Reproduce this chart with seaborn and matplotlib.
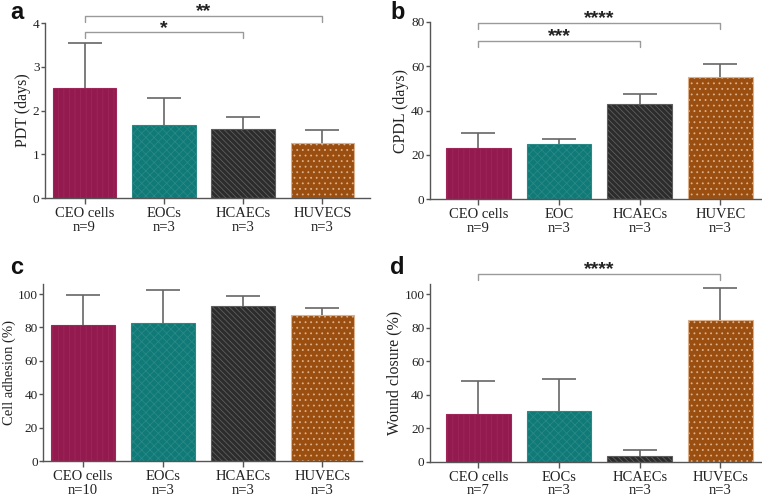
import numpy as np
import seaborn as sns
import matplotlib.pyplot as plt

# bar styling shared by all panels (CEO cells, EOCs, HCAECs, HUVECs)
colors = ['#921a4e', '#0f7a77', '#2c2c2c', '#9a4e10']
hatch_colors = ['#9e2659', '#2a8986', '#5e5e5e', '#dcb08a']
hatches = ['|||', 'xxxx', '\\\\\\\\\\\\', '...']

# a: population doubling time
pdt_labels = ['CEO cells\nn=9', 'EOCs\nn=3', 'HCAECs\nn=3', 'HUVECS\nn=3']
pdt_mean = [2.52, 1.68, 1.58, 1.26]
pdt_err = [1.02, 0.61, 0.28, 0.29]

# b: cumulative population doubling level
cpdl_labels = ['CEO cells\nn=9', 'EOC\nn=3', 'HCAECs\nn=3', 'HUVEC\nn=3']
cpdl_mean = [23.1, 24.8, 43.1, 55.3]
cpdl_err = [6.9, 2.5, 4.5, 5.5]

# c: cell adhesion
adh_labels = ['CEO cells\nn=10', 'EOCs\nn=3', 'HCAECs\nn=3', 'HUVECs\nn=3']
adh_mean = [81.4, 82.6, 92.8, 87.6]
adh_err = [17.8, 19.6, 5.8, 4.2]

# d: wound closure
wound_labels = ['CEO cells\nn=7', 'EOCs\nn=3', 'HCAECs\nn=3', 'HUVECs\nn=3']
wound_mean = [28.7, 30.6, 3.4, 84.8]
wound_err = [19.5, 19.0, 3.5, 19.3]

# significance brackets: (from bar, to bar, stars, height)
pdt_sig = [(0, 3, '**', 4.17), (0, 2, '*', 3.79)]
cpdl_sig = [(0, 3, '****', 79.5), (0, 2, '***', 71.4)]
wound_sig = [(0, 3, '****', 112.3)]

sns.set_style('ticks')
plt.rcParams['font.family'] = ['Liberation Serif', 'DejaVu Serif']
plt.rcParams['hatch.linewidth'] = 0.6

fig = plt.figure(figsize=(7.62, 4.98), dpi=100)


def draw_panel(rect, labels, mean, err, ylabel, ylim, yticks, xlim, sig,
               letter, letter_xy, label_size=11.5):
    ax = fig.add_axes(rect)
    sns.barplot(x=labels, y=mean, hue=labels, palette=colors, legend=False,
                saturation=1, width=0.8, ax=ax)

    # fill patterns
    for bars, h, hc in zip(ax.containers, hatches, hatch_colors):
        for p in bars:
            p.set_hatch(h)
            p.set_edgecolor(hc)
            p.set_linewidth(0.8)

    # upper error bars only
    eb = ax.errorbar(np.arange(len(mean)), mean, yerr=[np.zeros(len(err)), err],
                     fmt='none', ecolor='#666666', elinewidth=1.2,
                     capsize=12.5, capthick=1.2)
    eb[1][0].set_visible(False)

    ax.set_ylim(*ylim)
    ax.set_yticks(yticks)
    ax.set_xlim(*xlim)
    ax.set_xlabel('')
    ax.set_ylabel(ylabel, fontsize=label_size, color='#222222', labelpad=1.5)
    ax.tick_params(colors='#555555', labelcolor='#222222', width=1)
    ax.tick_params(axis='y', labelsize=9.5, length=3, pad=1)
    ax.tick_params(axis='x', labelsize=10.5, length=4, pad=2.5)
    for t in ax.get_xticklabels():
        t.set_linespacing(1.05)
    sns.despine(ax=ax)
    for s in ['left', 'bottom']:
        ax.spines[s].set_color('#555555')
        ax.spines[s].set_linewidth(1)

    # significance brackets
    drop = 0.036 * ylim[1]
    for i, j, stars, y in sig:
        ax.plot([i, i, j, j], [y - drop, y, y, y - drop], color='#9a9a9a',
                lw=1, clip_on=False)
        ax.annotate(stars, xy=((i + j) / 2, y), xytext=(0, -0.5),
                    textcoords='offset points', ha='center', va='baseline',
                    fontsize=14, fontweight='bold', family='Liberation Sans',
                    color='#222222', annotation_clip=False)

    fig.text(letter_xy[0], letter_xy[1], letter, fontsize=17, fontweight='bold',
             family='Liberation Sans', va='baseline', color='#111111')
    return ax


draw_panel([0.059, 0.6024, 0.4265, 0.3514], pdt_labels, pdt_mean, pdt_err,
           'PDT (days)', (0, 4), [0, 1, 2, 3, 4], (-0.5, 3.6), pdt_sig,
           'a', (10 / 762, 1 - 19 / 498))
draw_panel([0.5643, 0.5998, 0.434, 0.3566], cpdl_labels, cpdl_mean, cpdl_err,
           'CPDL (days)', (0, 80), [0, 20, 40, 60, 80], (-0.6, 3.5), cpdl_sig,
           'b', (390 / 762, 1 - 19 / 498))
draw_panel([0.0568, 0.0737, 0.4177, 0.356], adh_labels, adh_mean, adh_err,
           'Cell adhesion (%)', (0, 106), [0, 20, 40, 60, 80, 100], (-0.5, 3.49), [],
           'c', (10 / 762, 1 - 274 / 498), 10.5)
draw_panel([0.5643, 0.0729, 0.434, 0.356], wound_labels, wound_mean, wound_err,
           'Wound closure (%)', (0, 106), [0, 20, 40, 60, 80, 100], (-0.6, 3.5), wound_sig,
           'd', (390 / 762, 1 - 274 / 498))

fig.savefig('out.png', dpi=100)
